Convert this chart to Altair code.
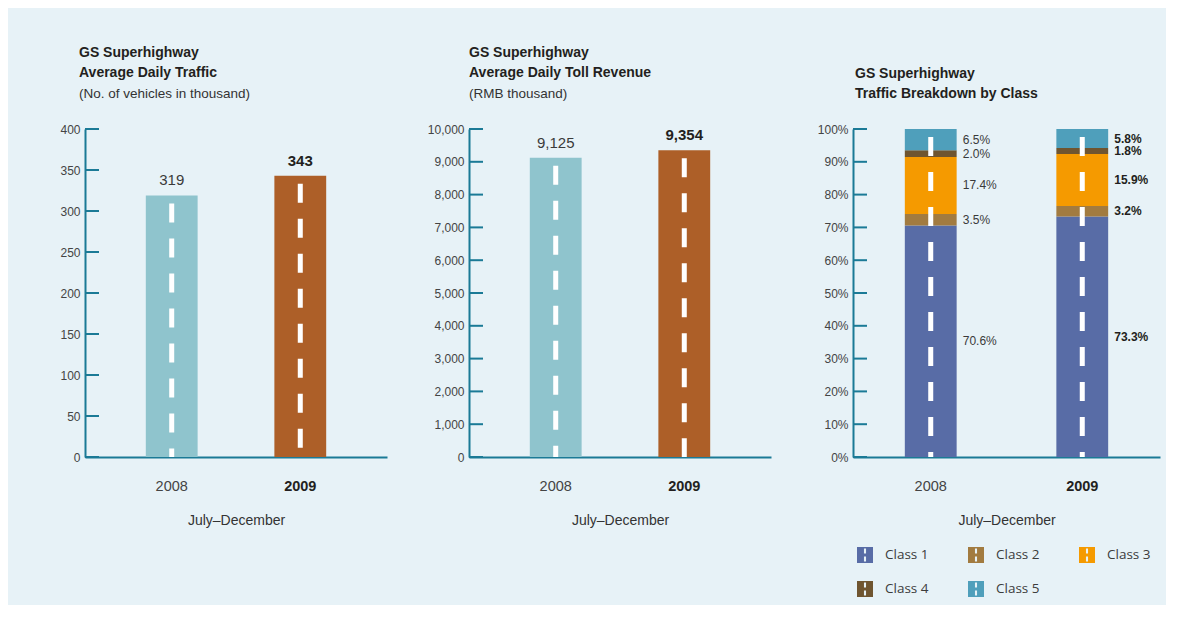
import altair as alt
import pandas as pd

# ---------------- data ----------------
years = ["2008", "2009"]
traffic = [319, 343]
revenue = [9125, 9354]
traffic_ticks = [0, 50, 100, 150, 200, 250, 300, 350, 400]
revenue_ticks = [0, 1000, 2000, 3000, 4000, 5000, 6000, 7000, 8000, 9000, 10000]
classes = ["Class 1", "Class 2", "Class 3", "Class 4", "Class 5"]
share_2008 = [70.6, 3.5, 17.4, 2.0, 6.5]
share_2009 = [73.3, 3.2, 15.9, 1.8, 5.8]
share_ticks = [0, 10, 20, 30, 40, 50, 60, 70, 80, 90, 100]

# ---------------- style ----------------
year_colors = ["#8fc4cd", "#ad5f28"]
class_colors = ["#586ca6", "#a27b40", "#f59a00", "#6f5530", "#4f9fbb"]
TEAL = "#1b7a96"
BG = "#e7f2f7"
FONT = "Liberation Sans"
LEG_FONT = "Open Sans"
DARK = "#231f20"
GREY = "#444444"
PANEL_H = 328

bold_expr = "datum.value == '2009' ? 'bold' : 'normal'"
color_expr = "datum.value == '2009' ? '#231f20' : '#444444'"

SWATCH = ("M-1,-1H1V1H-1Z "
          "M-0.13,-0.8V-0.2H0.13V-0.8Z "
          "M-0.13,0.2V0.8H0.13V0.2Z")


def x_axis():
    return alt.Axis(labelAngle=0, ticks=False, domainColor=TEAL, domainWidth=2,
                    labelFont=FONT, labelFontSize=14.5, labelPadding=22,
                    labelFontWeight=alt.ExprRef(expr=bold_expr),
                    labelColor=alt.ExprRef(expr=color_expr),
                    titleFont=FONT, titleFontSize=14, titleFontWeight="normal",
                    titleColor="#333333", titlePadding=21)


def y_axis(ticks, label_expr):
    return alt.Axis(values=ticks, ticks=False, grid=False, domainColor=TEAL, domainWidth=2,
                    labelFont=FONT, labelFontSize=12, labelColor=GREY, labelPadding=5,
                    labelExpr=label_expr)


def make_title(lines, sub, dx):
    kw = dict(text=lines, anchor="start", frame="group", font=FONT, fontSize=14,
              fontWeight="bold", color=DARK, lineHeight=20, offset=22.5, dx=dx)
    if sub:
        kw.update(subtitle=sub, subtitleFont=FONT, subtitleFontSize=13.5,
                  subtitleColor="#333333", subtitlePadding=7)
    return alt.TitleParams(**kw)


def ydef(field, ticks, axis):
    return alt.Y(field, scale=alt.Scale(domain=[ticks[0], ticks[-1]], nice=False),
                 axis=axis, title=None)


def tick_layer(ticks, axis):
    tdf = pd.DataFrame({"tick": ticks})
    return alt.Chart(tdf).mark_rule(color=TEAL, strokeWidth=2).encode(
        y=ydef("tick:Q", ticks, axis), x=alt.value(0), x2=alt.value(14))


def bar_panel(values, ticks, lines, sub, dx, w):
    df = pd.DataFrame({"year": years, "value": values})
    ax = y_axis(ticks, "format(datum.value, ',')")
    xs = alt.X("year:N", sort=years,
               scale=alt.Scale(paddingInner=0.597, paddingOuter=0.473),
               axis=x_axis(), title="July–December")
    ys = ydef("value:Q", ticks, ax)
    base = alt.Chart(df)
    bars = base.mark_bar().encode(
        x=xs, y=ys,
        color=alt.Color("year:N", scale=alt.Scale(domain=years, range=year_colors), legend=None))
    dashes = base.mark_rule(color="white", strokeWidth=5, strokeDash=[19, 16],
                            strokeDashOffset=27).encode(
        x=xs, y=ys, y2=alt.datum(0))
    lab_norm = base.transform_filter(alt.datum.year != "2009").mark_text(
        dy=-15, fontSize=15, font=FONT, color="#3a3a3a").encode(
        x=xs, y=ys, text=alt.Text("value:Q", format=","))
    lab_bold = base.transform_filter(alt.datum.year == "2009").mark_text(
        dy=-15, fontSize=15, font=FONT, fontWeight="bold", color=DARK).encode(
        x=xs, y=ys, text=alt.Text("value:Q", format=","))
    return alt.layer(bars, dashes, tick_layer(ticks, ax), lab_norm, lab_bold).properties(
        width=w, height=PANEL_H, title=make_title(lines, sub, dx))


def stack_panel(w):
    rows = []
    for yr, shares in zip(years, [share_2008, share_2009]):
        for i, (c, s) in enumerate(zip(classes, shares)):
            rows.append({"year": yr, "cls": c, "share": s, "idx": i})
    sdf = pd.DataFrame(rows)
    ddf = pd.DataFrame({"year": years, "total": [sum(share_2008), sum(share_2009)]})
    ax = y_axis(share_ticks, "datum.value + '%'")

    xs = alt.X("year:N", sort=years,
               scale=alt.Scale(paddingInner=0.658, paddingOuter=0.342),
               axis=x_axis(), title="July–December")
    ys = alt.Y("share:Q", stack="zero",
               scale=alt.Scale(domain=[0, 100], nice=False), axis=ax, title=None)
    bars = alt.Chart(sdf).mark_bar().encode(
        x=xs, y=ys,
        color=alt.Color("cls:N", scale=alt.Scale(domain=classes, range=class_colors),
                        legend=alt.Legend(orient="none", legendX=4, legendY=418,
                                          direction="horizontal", columns=3,
                                          symbolType=SWATCH, symbolSize=256,
                                          symbolStrokeWidth=0, labelFont=LEG_FONT,
                                          labelFontSize=13.5, labelColor="#3c3c3c",
                                          labelOffset=12, columnPadding=39, rowPadding=18,
                                          padding=0, title=None)),
        order=alt.Order("idx:Q"))
    dashes = alt.Chart(ddf).mark_rule(color="white", strokeWidth=5, strokeDash=[19, 16],
                                      strokeDashOffset=27).encode(
        x=xs, y=ydef("total:Q", share_ticks, ax), y2=alt.datum(0))

    lab_base = alt.Chart(sdf).transform_stack(
        stack="share", groupby=["year"], as_=["s0", "s1"],
        sort=[alt.SortField("idx", order="ascending")]
    ).transform_calculate(
        mid="(datum.s0 + datum.s1) / 2",
        lab="format(datum.share, '.1f') + '%'")
    lab_norm = lab_base.transform_filter(alt.datum.year != "2009").mark_text(
        align="left", dx=32, fontSize=12, font=FONT, color="#3a3a3a").encode(
        x=xs, y=ydef("mid:Q", share_ticks, ax), text="lab:N")
    lab_bold = lab_base.transform_filter(alt.datum.year == "2009").mark_text(
        align="left", dx=32, fontSize=12, font=FONT, fontWeight="bold", color=DARK).encode(
        x=xs, y=ydef("mid:Q", share_ticks, ax), text="lab:N")

    return alt.layer(bars, dashes, tick_layer(share_ticks, ax), lab_norm, lab_bold).properties(
        width=w, height=PANEL_H,
        title=make_title(["GS Superhighway", "Traffic Breakdown by Class"], None, 2))


p1 = bar_panel(traffic, traffic_ticks, ["GS Superhighway", "Average Daily Traffic"],
               "(No. of vehicles in thousand)", -6, 302)
p2 = bar_panel(revenue, revenue_ticks, ["GS Superhighway", "Average Daily Toll Revenue"],
               "(RMB thousand)", 0, 302)
p3 = stack_panel(307)

chart = alt.hconcat(p1, p2, p3, spacing=82, bounds="flush").resolve_scale(
    color="independent", x="independent", y="independent"
).properties(
    padding={"left": 51, "top": 38, "right": 6, "bottom": 8}
).configure(font=FONT, background=BG).configure_view(strokeWidth=0)

chart.save("out.html", embed_options={"renderer": "svg", "actions": False})
